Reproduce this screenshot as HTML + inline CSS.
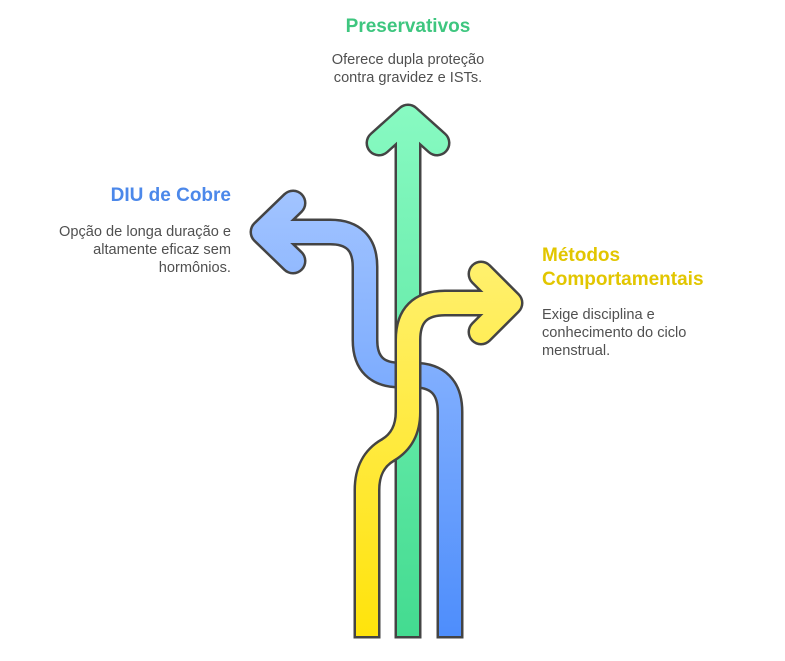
<!DOCTYPE html>
<html><head><meta charset="utf-8"><style>
body{margin:0;width:785px;height:661px;background:#fff;font-family:"Liberation Sans",sans-serif;overflow:hidden;position:relative}
.t{position:absolute;font-weight:bold;font-size:19px}
.d{position:absolute;font-size:14.6px;color:#505050;line-height:18px}
</style></head><body>
<svg width="785" height="661" style="position:absolute;left:0;top:0">
<defs>
<linearGradient id="g" gradientUnits="userSpaceOnUse" x1="0" y1="105" x2="0" y2="640"><stop offset="0" stop-color="#88fac2"/><stop offset="1" stop-color="#43db90"/></linearGradient>
<linearGradient id="b" gradientUnits="userSpaceOnUse" x1="0" y1="190" x2="0" y2="640"><stop offset="0" stop-color="#a2c4ff"/><stop offset="1" stop-color="#4d8dfc"/></linearGradient>
<linearGradient id="y" gradientUnits="userSpaceOnUse" x1="0" y1="260" x2="0" y2="640"><stop offset="0" stop-color="#fff06e"/><stop offset="1" stop-color="#ffe30a"/></linearGradient>
</defs>
<g fill="none" stroke-linejoin="round">
<g>
<path d="M408 638.5 V130" stroke="#444" stroke-width="27"/>
<path d="M379 143 L408 117 L437 143" stroke="#444" stroke-width="27" stroke-linecap="round"/>
<path d="M408 636 V130" stroke="url(#g)" stroke-width="22"/>
<path d="M379 143 L408 117 L437 143" stroke="url(#g)" stroke-width="22" stroke-linecap="round"/>
</g>
<g>
<path d="M450 638.5 V412 Q450 375 413 375 H400 Q365 375 365 340 V267 Q365 232 330 232 H264" stroke="#444" stroke-width="27"/>
<path d="M293 203 L263 232 L293 261" stroke="#444" stroke-width="27" stroke-linecap="round"/>
<path d="M450 636 V412 Q450 375 413 375 H400 Q365 375 365 340 V267 Q365 232 330 232 H264" stroke="url(#b)" stroke-width="22"/>
<path d="M293 203 L263 232 L293 261" stroke="url(#b)" stroke-width="22" stroke-linecap="round"/>
</g>
<g>
<path d="M367 638.5 V490 Q367 462 388 450 Q408 438 408 412 V340 Q408 303 445 303 H508" stroke="#444" stroke-width="27"/>
<path d="M481 274 L510 303 L481 332" stroke="#444" stroke-width="27" stroke-linecap="round"/>
<path d="M367 636 V490 Q367 462 388 450 Q408 438 408 412 V340 Q408 303 445 303 H508" stroke="url(#y)" stroke-width="22"/>
<path d="M481 274 L510 303 L481 332" stroke="url(#y)" stroke-width="22" stroke-linecap="round"/>
</g>
</g>
</svg>
<div class="t" style="left:308px;width:200px;text-align:center;top:16px;color:#3ec67f">Preservativos</div>
<div class="d" style="left:258px;width:300px;text-align:center;top:51px">Oferece dupla proteção<br>contra gravidez e ISTs.</div>
<div class="t" style="right:554px;top:185px;color:#4c88ea">DIU de Cobre</div>
<div class="d" style="right:554px;text-align:right;top:223px">Opção de longa duração e<br>altamente eficaz sem<br>hormônios.</div>
<div class="t" style="left:542px;top:244px;color:#e2c600;line-height:24px">Métodos<br>Comportamentais</div>
<div class="d" style="left:542px;top:306px">Exige disciplina e<br>conhecimento do ciclo<br>menstrual.</div>
</body></html>
